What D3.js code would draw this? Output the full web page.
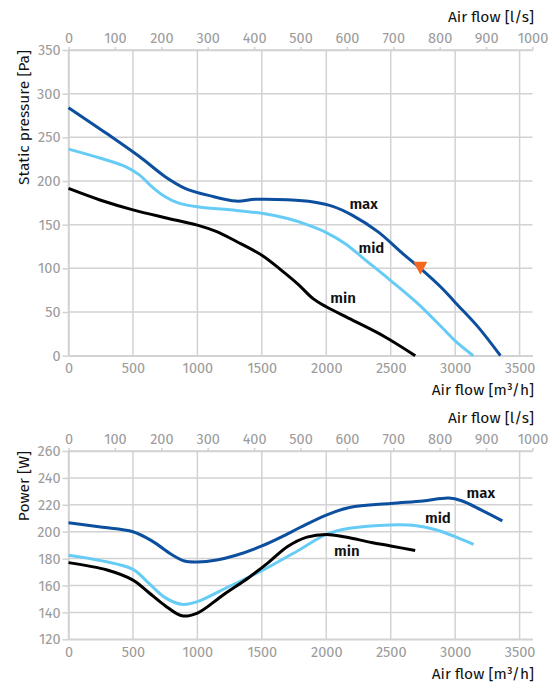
<!DOCTYPE html>
<html><head><meta charset="utf-8">
<script src="https://cdn.jsdelivr.net/npm/d3@7"></script>
<style>
body{margin:0;background:#fff;}
svg text{font-family:"Fira Sans","Open Sans","Noto Sans",sans-serif;}
</style></head>
<body><svg id="c" width="555" height="684"></svg>
<script>
// ---- data ----
const flowTicks = [0,500,1000,1500,2000,2500,3000,3500];       // m3/h
const lsTicks = [0,100,200,300,400,500,600,700,800,900,1000];   // l/s
const pressureTicks = [0,50,100,150,200,250,300,350];
const powerTicks = [120,140,160,180,200,220,240,260];
const seriesNames = ["max","mid","min"];
const seriesColors = ["#0b4f9e","#66ccf5","#000000"];

const pressureMax = [[0,284],[300,254],[550,228],[750,205],[900,192],[1100,183],[1300,177],[1450,179],[1700,178.5],[1900,176],[2050,171],[2200,161],[2400,142],[2600,116],[2730,100],[2900,77],[3000,61],[3177,33],[3351,0]];
const pressureMid = [[0,236.5],[250,226],[450,216],[550,207],[650,193],[750,182],[850,175],[1000,170.5],[1250,167],[1500,163],[1700,157],[1850,150],[2000,141],[2150,128],[2300,110],[2500,86],[2700,61],[2900,32],[3000,17],[3140,0]];
const pressureMin = [[0,191.5],[250,178],[500,167],[750,158],[1000,149.5],[1150,142],[1300,131],[1500,115],[1650,98],[1780,82],[1900,65],[2000,56],[2200,41],[2450,22],[2690,0]];

const powerMax = [[0,206.7],[250,203.5],[500,200],[650,193],[800,183],[900,178.2],[1000,177.5],[1150,179],[1300,182.5],[1500,189.4],[1650,196],[1800,203.3],[2000,212.4],[2180,218],[2500,221],[2750,222.8],[2950,225],[3050,223],[3204,216],[3366,208]];
const powerMid = [[0,182.5],[250,178.5],[500,172],[620,162],[750,151],[880,146],[1000,148],[1230,158.5],[1500,171],[1800,187],[2000,198],[2180,202.5],[2500,205],[2700,204.5],[2850,201.5],[3000,196.3],[3143,190.5]];
const powerMin = [[0,177],[300,171.5],[500,164],[620,155],[750,145],[880,137.5],[1000,139.5],[1200,153],[1400,166],[1550,177],[1700,189],[1850,196],[2000,198],[2150,196],[2350,192],[2500,189.4],[2690,186]];

const operatingPoint = [2730, 100];   // m3/h, Pa

const pressureLabelAt = [[2290,174],[2350,124],[2130,66]];
const powerLabelAt = [[3199,229],[2866,210.3],[2160,185.7]];

// ---- drawing ----
const svg = d3.select("#c");
const LS_TO_M3H = 3.6;
const x = d3.scaleLinear().domain([0, 3600]).range([68.5, 532.5]);
const GRID = "#d2d2d2", TICKC = "#9c9c9c", FS = 14.5;

function chart(cfg) {
  const y = d3.scaleLinear().domain(cfg.yDomain).range([cfg.bottom, cfg.top]);
  const g = svg.append("g");

  g.append("g").selectAll("line").data(flowTicks).join("line")
    .attr("x1", d => x(d)).attr("x2", d => x(d))
    .attr("y1", cfg.top).attr("y2", cfg.bottom)
    .attr("stroke", GRID).attr("stroke-width", 1.5);
  g.append("g").selectAll("line").data(cfg.yTicks).join("line")
    .attr("x1", x.range()[0]).attr("x2", x.range()[1])
    .attr("y1", d => y(d)).attr("y2", d => y(d))
    .attr("stroke", GRID).attr("stroke-width", 1.5);

  const style = sel => {
    sel.select(".domain").attr("stroke", GRID).attr("stroke-width", 1.5);
    sel.selectAll(".tick line").attr("stroke", GRID).attr("stroke-width", 1.5);
    sel.selectAll("text").attr("fill", TICKC).attr("font-size", FS)
      .style("font-family", '"Fira Sans","Open Sans","Noto Sans",sans-serif');
  };
  const fmt = d3.format("d");
  g.append("g").attr("transform", `translate(${x.range()[0]},0)`)
    .call(d3.axisLeft(y).tickValues(cfg.yTicks).tickFormat(fmt).tickSize(6).tickPadding(2).tickSizeOuter(0))
    .call(style);
  g.append("g").attr("transform", `translate(0,${cfg.top})`)
    .call(d3.axisTop(x).tickValues(lsTicks.map(v => v * LS_TO_M3H))
      .tickFormat((d, i) => fmt(lsTicks[i])).tickSize(3).tickPadding(4).tickSizeOuter(0))
    .call(style);
  g.append("g").attr("transform", `translate(0,${cfg.bottom})`)
    .call(d3.axisBottom(x).tickValues(flowTicks).tickFormat(fmt).tickSize(0).tickPadding(7).tickSizeOuter(0))
    .call(style);

  g.append("text").attr("x", 534).attr("y", cfg.top - 28.5).attr("text-anchor", "end")
    .attr("font-size", 15.5).attr("fill", "#111").text("Air flow [l/s]");
  g.append("text").attr("x", 534).attr("y", cfg.bottom + 39.3).attr("text-anchor", "end")
    .attr("font-size", 15.5).attr("fill", "#111").text("Air flow [m³/h]");
  g.append("text").attr("transform", `translate(29,${cfg.top}) rotate(-90)`)
    .attr("text-anchor", "end").attr("font-size", 15.5).attr("fill", "#111").text(cfg.yTitle);

  const line = d3.line().x(d => x(d[0])).y(d => y(d[1])).curve(d3.curveCatmullRom.alpha(0.5));
  cfg.series.forEach((s, i) => {
    g.append("path").datum(s).attr("d", line).attr("fill", "none")
      .attr("stroke", seriesColors[i]).attr("stroke-width", 3)
      .attr("stroke-linejoin", "round").attr("stroke-linecap", "butt");
  });
  cfg.labels.forEach((p, i) => {
    g.append("text").attr("x", x(p[0])).attr("y", y(p[1])).attr("dy", "0.35em")
      .attr("text-anchor", "middle").attr("font-size", 15).attr("font-weight", 600)
      .attr("fill", "#111").text(seriesNames[i]);
  });
  return {g, y};
}

const pressureChart = chart({
  top: 50, bottom: 355.7, yDomain: [0, 350], yTicks: pressureTicks,
  yTitle: "Static pressure [Pa]",
  series: [pressureMax, pressureMid, pressureMin], labels: pressureLabelAt
});
const opx = x(operatingPoint[0]), opy = pressureChart.y(operatingPoint[1]);
pressureChart.g.append("path")
  .attr("d", `M${opx-7},${opy-6.5}L${opx+7},${opy-6.5}L${opx},${opy+6.5}Z`)
  .attr("fill", "#f26a21");

chart({
  top: 451, bottom: 639.3, yDomain: [120, 260], yTicks: powerTicks,
  yTitle: "Power [W]",
  series: [powerMax, powerMid, powerMin], labels: powerLabelAt
});
</script>
</body></html>
